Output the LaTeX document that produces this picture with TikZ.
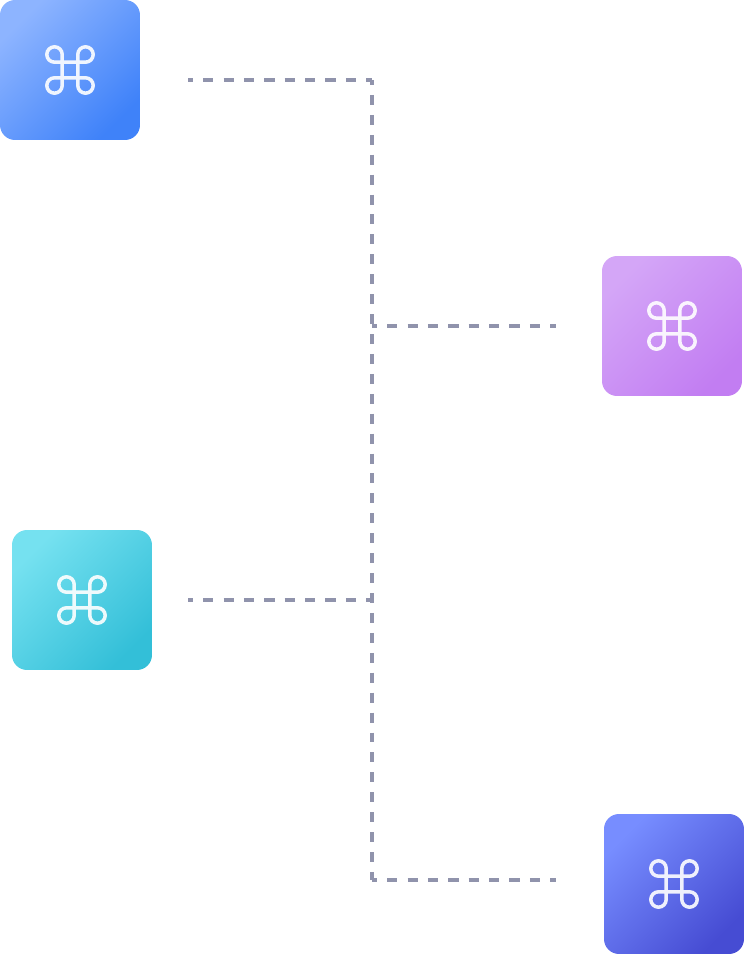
\documentclass[tikz,border=0pt]{standalone}
\usepackage{tikz}
\usetikzlibrary{calc}
\definecolor{tileblueA}{HTML}{8DB4FF}
\definecolor{tileblueB}{HTML}{3F82F9}
\definecolor{tilepurpleA}{HTML}{D4A6F7}
\definecolor{tilepurpleB}{HTML}{C27DF2}
\definecolor{tilecyanA}{HTML}{75E1F0}
\definecolor{tilecyanB}{HTML}{33BFD8}
\definecolor{tileindigoA}{HTML}{778DFF}
\definecolor{tileindigoB}{HTML}{464CD3}
\definecolor{linkgrey}{HTML}{9093AC}
\tikzset{
	tile/.style={minimum size=2.8cm, inner sep=0pt, rounded corners=0.3cm},
	linkh/.style={linkgrey, line width=2.2pt, dash pattern=on 5.8pt off 5.8pt, dash phase=2.95pt},
	linkv/.style={linkgrey, line width=2.2pt, dash pattern=on 5.67pt off 5.67pt, dash phase=2.83pt},
	cmdicon/.pic={
		\draw[white, opacity=0.9, line width=2pt, line join=round]
			(-15.5,7.8) -- (15.5,7.8) arc (-90:180:7.7) -- (7.8,-15.5) arc (180:450:7.7)
			-- (-15.5,-7.8) arc (90:360:7.7) -- (-7.8,15.5) arc (0:270:7.7) -- cycle;
	}
}

\begin{document}
\begin{tikzpicture}[x=0.02cm, y=0.02cm]
	\useasboundingbox (0,0) rectangle (744,954);
	% Tiles
	\foreach \name/\posx/\posy in {blue/70/884, purple/672/628, cyan/82/354, indigo/674/70}
	{
		\node[tile, left color=tile\name A, right color=tile\name B, shading angle=45] (\name) at (\posx,\posy) {};
		\pic at (\name) {cmdicon};
	}
	% Bus
	\coordinate (busTop) at (372,874);
	\coordinate (busBottom) at (372,74);
	\coordinate (busPurple) at (372,628);
	\coordinate (busCyan) at (372,354);
	% Free ends
	\coordinate (blueEnd) at (188,874);
	\coordinate (cyanEnd) at (188,354);
	\coordinate (purpleEnd) at (556,628);
	\coordinate (indigoEnd) at (556,74);
	% Links
	\draw[linkv] (busTop) -- (busBottom);
	\draw[linkh] (blueEnd) -- (busTop);
	\draw[linkh] (cyanEnd) -- (busCyan);
	\draw[linkh] (busPurple) -- (purpleEnd);
	\draw[linkh] (busBottom) -- (indigoEnd);
\end{tikzpicture}
\end{document}
